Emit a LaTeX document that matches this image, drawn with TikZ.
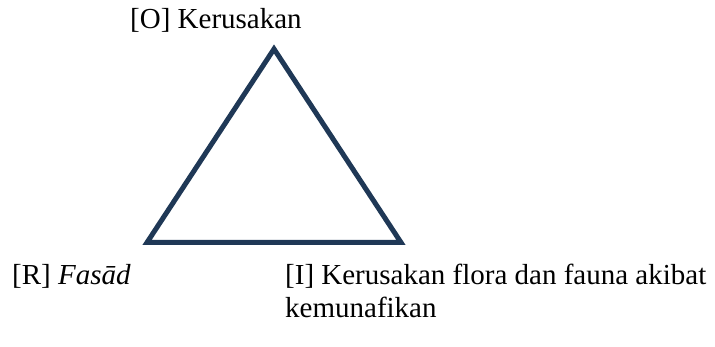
\documentclass[tikz,border=0pt]{standalone}
\usepackage{fontspec}
\setmainfont{Liberation Serif}
\definecolor{navy}{RGB}{31,56,86}
\begin{document}
\begin{tikzpicture}[x=1pt,y=-1pt,
  lbl/.style={anchor=base west, inner sep=0pt, font=\fontsize{29}{34}\selectfont},
  tri/.style={draw=navy, line width=5pt, line join=miter}]
\useasboundingbox (0,0) rectangle (715,347);
\coordinate (A) at (274,49);
\coordinate (B) at (147,242.5);
\coordinate (C) at (401,242.5);
\draw[tri] (A) -- (B) -- (C) -- cycle;
\node[lbl] (o) at (130,29) {[O] Kerusakan};
\node[lbl] (r) at (12,285) {[R] \textit{Fasād}};
\node[lbl] (i1) at (285,285) {[I] Kerusakan flora dan fauna akibat};
\node[lbl] (i2) at (285,318) {kemunafikan};
\end{tikzpicture}
\end{document}
